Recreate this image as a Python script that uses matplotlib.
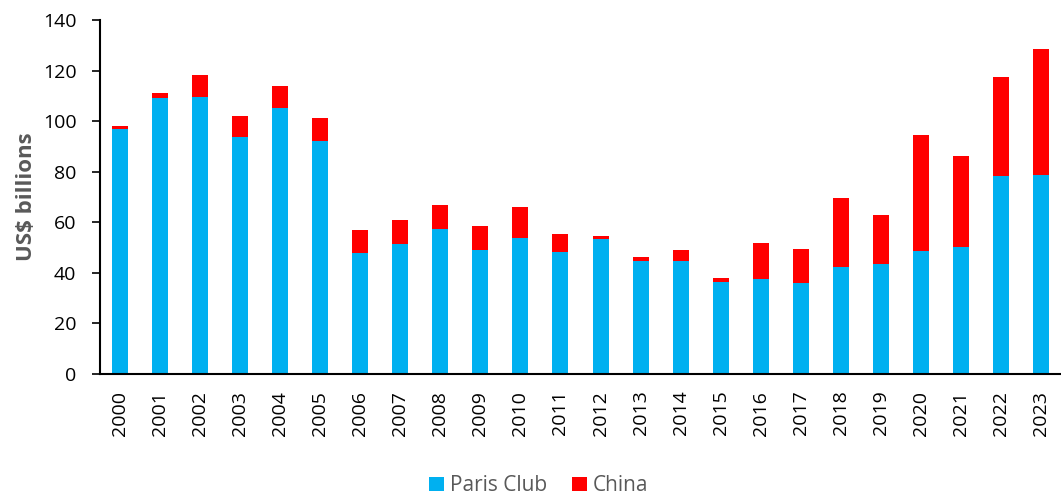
import matplotlib.pyplot as plt
import numpy as np

plt.rcParams['font.family'] = ['Open Sans', 'DejaVu Sans']

years = [str(y) for y in range(2000, 2024)]
paris_club = [96.8, 109.1, 109.4, 93.7, 105.1, 92.1, 47.7, 51.3, 57.4, 49.0,
              53.8, 48.1, 53.5, 44.7, 44.5, 36.4, 37.5, 35.8, 42.3, 43.5,
              48.6, 50.2, 78.3, 78.7]
totals = [98.1, 111.1, 118.1, 102.0, 113.8, 101.1, 56.9, 61.1, 66.7, 58.4,
          66.1, 55.3, 54.5, 46.1, 49.1, 37.9, 51.8, 49.3, 69.8, 63.0,
          94.6, 86.2, 117.3, 128.5]
china = [t - p for t, p in zip(totals, paris_club)]

blue = '#00B0F0'
red = '#FF0000'

fig = plt.figure(figsize=(10.61, 5.0), dpi=100)
ax = fig.add_axes([100 / 1061, 1 - 374 / 500, 961 / 1061, 354 / 500])

x = np.arange(len(years))
ax.bar(x, paris_club, width=0.4, color=blue, label='Paris Club')
ax.bar(x, china, width=0.4, bottom=paris_club, color=red, label='China')

ax.set_xlim(-0.5, len(years) - 0.5)
ax.set_ylim(0, 140)
ax.set_yticks(np.arange(0, 141, 20))
ax.set_xticks(x)
ax.set_xticklabels(years, rotation=90, fontsize=14)
ax.tick_params(axis='x', length=0, pad=12)
ax.tick_params(axis='y', labelsize=14, length=6, width=1.2, direction='out', pad=11)

for side in ['top', 'right']:
    ax.spines[side].set_visible(False)
for side in ['left', 'bottom']:
    ax.spines[side].set_linewidth(1.5)

ax.set_ylabel('US$ billions', fontsize=16, fontweight='bold', color='#595959', labelpad=4)

fig.legend(loc='lower center', bbox_to_anchor=(0.508, -0.03), ncol=2, frameon=False,
           fontsize=15, handlelength=0.7, handleheight=0.7, handletextpad=0.3,
           columnspacing=1.2, labelcolor='#595959')

fig.savefig('out.png', dpi=100)
